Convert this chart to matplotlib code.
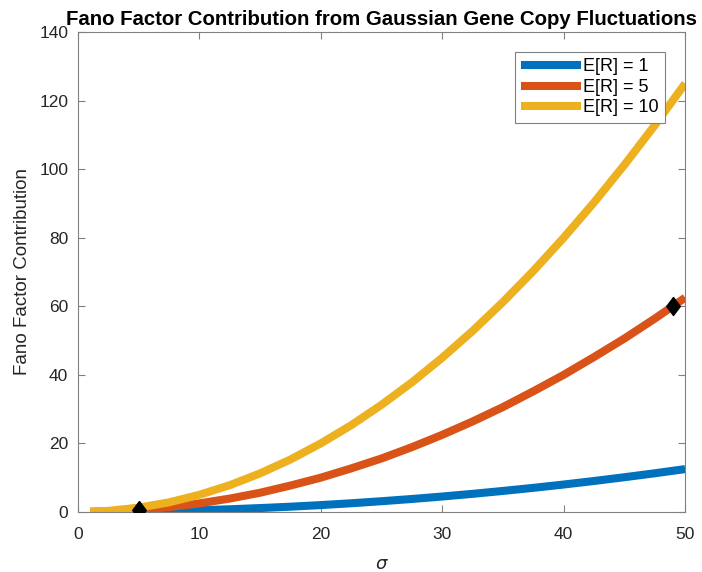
import matplotlib
matplotlib.use("Agg")
import matplotlib.pyplot as plt

plt.rcParams['font.family'] = ['Liberation Sans', 'DejaVu Sans']

# values
sigma = [1, 2.5, 5, 7.5, 10, 12.5, 15, 17.5, 20, 22.5, 25, 27.5, 30,
         32.5, 35, 37.5, 40, 42.5, 45, 47.5, 50]
fano_r1 = [0.005, 0.03, 0.13, 0.28, 0.5, 0.78, 1.13, 1.53, 2.0, 2.53, 3.13,
           3.78, 4.5, 5.28, 6.13, 7.03, 8.0, 9.03, 10.13, 11.28, 12.5]
fano_r5 = [0.03, 0.16, 0.63, 1.4, 2.5, 3.9, 5.6, 7.7, 10.0, 12.7, 15.6,
           18.9, 22.5, 26.4, 30.6, 35.2, 40.0, 45.2, 50.6, 56.4, 62.5]
fano_r10 = [0.05, 0.31, 1.25, 2.8, 5.0, 7.8, 11.25, 15.3, 20.0, 25.3, 31.25,
            37.8, 45.0, 52.8, 61.25, 70.3, 80.0, 90.3, 101.25, 112.8, 125.0]
labels = ['E[R] = 1', 'E[R] = 5', 'E[R] = 10']
colors = ['#0072BD', '#D95319', '#EDB120']

marker_x = [5, 49]
marker_y = [0.63, 60.0]

fig = plt.figure(figsize=(7.02, 5.72), dpi=100)
ax = fig.add_axes([0.111, 0.105, 0.865, 0.839])

for ys, lab, c in zip([fano_r1, fano_r5, fano_r10], labels, colors):
    ax.plot(sigma, ys, color=c, linewidth=5.8, label=lab, solid_capstyle='butt')

# black diamonds, slightly taller than wide like the original
ax.plot(marker_x, marker_y, linestyle='none',
        marker=[(0, 1), (0.75, 0), (0, -1), (-0.75, 0), (0, 1)],
        color='black', markersize=13, zorder=5)

ax.set_xlim(0, 50)
ax.set_ylim(0, 140)
ax.set_xticks([0, 10, 20, 30, 40, 50])
ax.set_yticks(range(0, 141, 20))

grey = '#808080'
for s in ax.spines.values():
    s.set_color(grey)
    s.set_linewidth(0.8)
ax.tick_params(direction='in', top=True, right=True, length=5, color=grey,
               labelsize=12.5, labelcolor='#262626')
ax.tick_params(axis='x', pad=11)
ax.tick_params(axis='y', pad=7)

ax.set_title('Fano Factor Contribution from Gaussian Gene Copy Fluctuations',
             fontsize=14.7, fontweight='bold', pad=5)
ax.set_ylabel('Fano Factor Contribution', fontsize=13.5, color='#262626',
              labelpad=6)
ax.set_xlabel(r'$\sigma$', fontsize=13, color='#262626', labelpad=10)

leg = ax.legend(loc='upper right', fontsize=13, fancybox=False, framealpha=1,
                handlelength=3.3, borderaxespad=1.1, handletextpad=0.15,
                labelspacing=0.2, borderpad=0.35)
leg.get_frame().set_edgecolor(grey)
leg.get_frame().set_linewidth(0.8)

fig.savefig('out.png', dpi=100)
